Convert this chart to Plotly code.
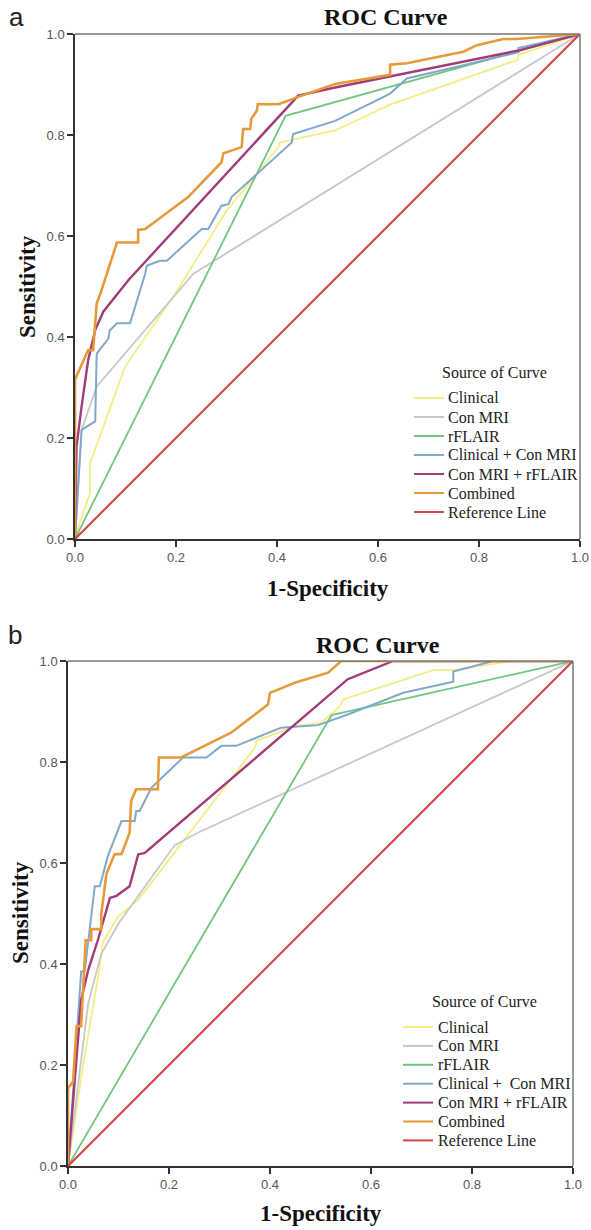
import plotly.graph_objects as go

W, H = 591, 1230

names = ["Clinical", "Con MRI", "rFLAIR", "Clinical + Con MRI", "Con MRI + rFLAIR", "Combined", "Reference Line"]
names_b = ["Clinical", "Con MRI", "rFLAIR", "Clinical +  Con MRI", "Con MRI + rFLAIR", "Combined", "Reference Line"]
colors = ["#f3ee84", "#c8c8c8", "#72c67e", "#80a8cc", "#a03c78", "#e8993a", "#d24848"]
widths = [1.8, 1.8, 1.8, 2.0, 2.4, 2.6, 2.2]

# ---- Panel a data (1-Specificity, Sensitivity) ----
a_clin_x = [0, 0.015, 0.03, 0.03, 0.099, 0.198, 0.30, 0.403, 0.405, 0.515, 0.624, 0.877, 0.877, 1.0]
a_clin_y = [0, 0.05, 0.091, 0.15, 0.341, 0.485, 0.65, 0.776, 0.785, 0.809, 0.86, 0.949, 0.958, 1.0]
a_con_x = [0, 0.013, 0.043, 0.234, 1.0]
a_con_y = [0, 0.216, 0.302, 0.525, 1.0]
a_flair_x = [0, 0.417, 1.0]
a_flair_y = [0, 0.838, 1.0]
a_cc_x = [0, 0.013, 0.04, 0.043, 0.066, 0.069, 0.083, 0.109, 0.116, 0.139, 0.142, 0.168, 0.182,
          0.251, 0.264, 0.29, 0.304, 0.31, 0.429, 0.432, 0.515, 0.624, 0.657, 0.878, 0.878, 1.0]
a_cc_y = [0, 0.216, 0.233, 0.367, 0.397, 0.413, 0.427, 0.427, 0.45, 0.525, 0.541, 0.551, 0.551,
          0.614, 0.614, 0.66, 0.663, 0.677, 0.785, 0.802, 0.828, 0.882, 0.912, 0.964, 0.972, 1.0]
a_cf_x = [0, 0.003, 0.013, 0.026, 0.04, 0.056, 0.106, 0.442, 0.515, 0.881, 1.0]
a_cf_y = [0, 0.183, 0.262, 0.354, 0.414, 0.45, 0.513, 0.878, 0.894, 0.968, 1.0]
a_comb_x = [0, 0, 0.026, 0.036, 0.043, 0.05, 0.083, 0.125, 0.125, 0.139, 0.224, 0.29, 0.294, 0.33,
            0.333, 0.347, 0.349, 0.36, 0.362, 0.403, 0.449, 0.515, 0.624, 0.624, 0.657, 0.769,
            0.796, 0.848, 0.874, 1.0]
a_comb_y = [0, 0.316, 0.374, 0.374, 0.467, 0.485, 0.587, 0.587, 0.612, 0.614, 0.677, 0.746, 0.764,
            0.776, 0.812, 0.812, 0.832, 0.848, 0.861, 0.861, 0.878, 0.901, 0.919, 0.939, 0.942,
            0.965, 0.978, 0.99, 0.99, 1.0]

# ---- Panel b data ----
b_clin_x = [0, 0.03, 0.063, 0.069, 0.099, 0.139, 0.37, 0.373, 0.449, 0.5, 0.538, 0.545, 0.723, 0.763, 0.88, 1.0]
b_clin_y = [0, 0.2, 0.395, 0.443, 0.494, 0.527, 0.828, 0.842, 0.871, 0.877, 0.91, 0.924, 0.982, 0.982, 1.0, 1.0]
b_con_x = [0, 0.04, 0.066, 0.1, 0.211, 0.257, 1.0]
b_con_y = [0, 0.322, 0.42, 0.48, 0.635, 0.66, 1.0]
b_flair_x = [0, 0.522, 1.0]
b_flair_y = [0, 0.893, 1.0]
b_cc_x = [0, 0.026, 0.033, 0.05, 0.053, 0.063, 0.079, 0.106, 0.132, 0.135, 0.142, 0.165, 0.228,
          0.274, 0.304, 0.333, 0.422, 0.495, 0.554, 0.664, 0.763, 0.763, 0.842, 1.0]
b_cc_y = [0, 0.385, 0.385, 0.527, 0.554, 0.554, 0.614, 0.683, 0.683, 0.703, 0.703, 0.749, 0.809,
          0.809, 0.832, 0.832, 0.868, 0.873, 0.894, 0.937, 0.959, 0.979, 1.0, 1.0]
b_cf_x = [0, 0.026, 0.04, 0.06, 0.083, 0.096, 0.122, 0.139, 0.152, 0.554, 0.644, 1.0]
b_cf_y = [0, 0.329, 0.388, 0.45, 0.531, 0.535, 0.554, 0.617, 0.62, 0.964, 1.0, 1.0]
b_comb_x = [0, 0, 0.01, 0.017, 0.026, 0.035, 0.046, 0.046, 0.066, 0.066, 0.076, 0.092, 0.106, 0.122,
            0.125, 0.135, 0.178, 0.18, 0.224, 0.31, 0.323, 0.396, 0.4, 0.449, 0.515, 0.541, 1.0]
b_comb_y = [0, 0.154, 0.167, 0.277, 0.277, 0.447, 0.447, 0.469, 0.469, 0.50, 0.578, 0.617, 0.618, 0.66,
            0.723, 0.746, 0.746, 0.809, 0.809, 0.851, 0.858, 0.914, 0.937, 0.957, 0.977, 1.0, 1.0]

ref_x = [0, 1]
ref_y = [0, 1]

ticks = [0.0, 0.2, 0.4, 0.6, 0.8, 1.0]
tick_text = ["0.0", "0.2", "0.4", "0.6", "0.8", "1.0"]

series_a = [(a_clin_x, a_clin_y), (a_con_x, a_con_y), (a_flair_x, a_flair_y), (a_cc_x, a_cc_y),
            (a_cf_x, a_cf_y), (a_comb_x, a_comb_y), (ref_x, ref_y)]
series_b = [(b_clin_x, b_clin_y), (b_con_x, b_con_y), (b_flair_x, b_flair_y), (b_cc_x, b_cc_y),
            (b_cf_x, b_cf_y), (b_comb_x, b_comb_y), (ref_x, ref_y)]

fig = go.Figure()
for i, (xs, ys) in enumerate(series_a):
    fig.add_trace(go.Scatter(x=xs, y=ys, mode="lines", name=names[i],
                             line=dict(color=colors[i], width=widths[i]),
                             xaxis="x", yaxis="y", showlegend=False))
for i, (xs, ys) in enumerate(series_b):
    fig.add_trace(go.Scatter(x=xs, y=ys, mode="lines", name=names_b[i],
                             line=dict(color=colors[i], width=widths[i]),
                             xaxis="x2", yaxis="y2", showlegend=False))

def px2x(px):
    return px / W

def py2y(py):
    return 1 - py / H

tickfont = dict(family="Liberation Sans, Arial", size=13, color="#555")
axis_common = dict(range=[0, 1], tickvals=ticks, ticktext=tick_text, showgrid=False, zeroline=False,
                   showline=True, linecolor="#333", linewidth=1.5, ticks="outside", ticklen=6,
                   tickcolor="#333", tickwidth=1.5, tickfont=tickfont, fixedrange=True,
                   automargin=False)

fig.update_layout(
    width=W, height=H, margin=dict(l=0, r=0, t=0, b=0, pad=0, autoexpand=False),
    paper_bgcolor="white", plot_bgcolor="white",
    xaxis=dict(domain=[px2x(75), px2x(580)], anchor="y", **axis_common),
    yaxis=dict(domain=[py2y(539), py2y(34)], anchor="x", **axis_common),
    xaxis2=dict(domain=[px2x(68), px2x(573)], anchor="y2", **axis_common),
    yaxis2=dict(domain=[py2y(1166), py2y(661)], anchor="x2", **axis_common),
    showlegend=False,
)

shapes = []
# top/right frame lines
for xr, yr in [("x", "y"), ("x2", "y2")]:
    shapes.append(dict(type="line", xref=xr + " domain", yref=yr + " domain", x0=0, x1=1, y0=1, y1=1,
                       line=dict(color="#777", width=1.5)))
    shapes.append(dict(type="line", xref=xr + " domain", yref=yr + " domain", x0=1, x1=1, y0=0, y1=1,
                       line=dict(color="#777", width=1.5)))

ann = []
def add_text(text, x, y, font, angle=0, xanchor="center"):
    ann.append(dict(text=text, x=px2x(x), y=py2y(y), xref="paper", yref="paper", showarrow=False,
                    xanchor=xanchor, yanchor="middle", font=font, textangle=angle))

title_font = dict(family="Liberation Serif, Times New Roman", size=24, color="#111")
bold_serif = dict(family="Liberation Serif, Times New Roman", size=23, color="#111")
add_text("<b>ROC Curve</b>", 386, 17, title_font)
add_text("<b>ROC Curve</b>", 378, 645, title_font)
add_text("<b>1-Specificity</b>", 328, 588, bold_serif)
add_text("<b>1-Specificity</b>", 321, 1213, bold_serif)
add_text("<b>Sensitivity</b>", 27, 287, bold_serif, -90)
add_text("<b>Sensitivity</b>", 20, 913, bold_serif, -90)
lab_font = dict(family="Liberation Sans, Arial", size=26, color="#222")
add_text("a", 16, 17, lab_font)
add_text("b", 15, 635, lab_font)

# legends (drawn as text + short line keys)
leg_font = dict(family="Liberation Serif, Times New Roman", size=16, color="#222")
def add_legend(title_x, title_y, line_x0, line_x1, text_x, row0, step, labels):
    add_text("Source of Curve", title_x, title_y, leg_font, xanchor="left")
    for i, lab in enumerate(labels):
        yy = row0 + step * i
        shapes.append(dict(type="line", xref="paper", yref="paper", x0=px2x(line_x0), x1=px2x(line_x1),
                           y0=py2y(yy), y1=py2y(yy), line=dict(color=colors[i], width=2)))
        add_text(lab, text_x, yy, leg_font, xanchor="left")

add_legend(440, 373, 414, 444, 446, 398, 19, names)
add_legend(430, 1001, 403, 433, 436, 1027, 18.9, names_b)

fig.update_layout(annotations=ann, shapes=shapes)

fig.write_html("out.html", config={"displayModeBar": False},
               post_script="document.body.style.margin='0';document.body.style.padding='0';")
